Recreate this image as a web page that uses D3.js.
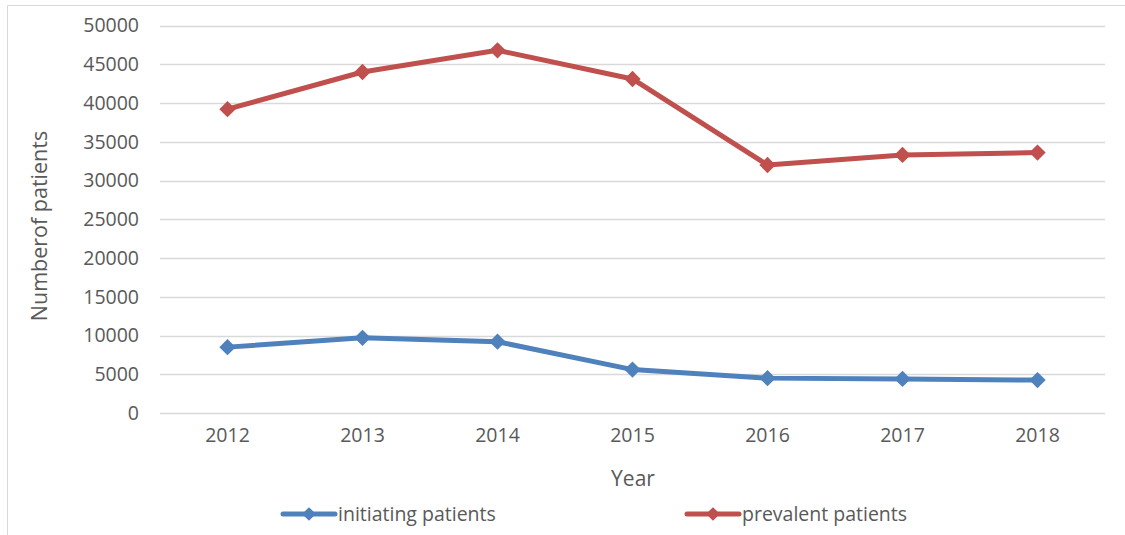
<!DOCTYPE html>
<html>
<head>
<meta charset="utf-8">
<script src="https://cdn.jsdelivr.net/npm/d3@7"></script>
<style>
  body { margin: 0; background: #fff; }
  text { font-family: "Open Sans", sans-serif; fill: #595959; }
</style>
</head>
<body>
<svg id="chart" width="1125" height="535"></svg>
<script>
var years = ["2012", "2013", "2014", "2015", "2016", "2017", "2018"];
var initiating = [8500, 9700, 9200, 5600, 4500, 4400, 4250];
var prevalent = [39200, 44000, 46800, 43100, 32000, 33300, 33600];
var yTicks = [0, 5000, 10000, 15000, 20000, 25000, 30000, 35000, 40000, 45000, 50000];
var seriesNames = ["initiating patients", "prevalent patients"];
var colors = ["#4F81BD", "#C0504D"];

var svg = d3.select("#chart");

// chart frame (only left / top edge visible in the picture)
svg.append("path")
  .attr("d", "M7.5,535V5.5H1125")
  .attr("fill", "none")
  .attr("stroke", "#d9d9d9")
  .attr("stroke-width", 1);

var x = d3.scaleBand().domain(years).range([160, 1105]);
var y = d3.scaleLinear().domain([0, 50000]).range([413, 25.5]);

// gridlines
svg.append("g")
  .selectAll("line")
  .data(yTicks)
  .enter().append("line")
  .attr("x1", 160).attr("x2", 1105)
  .attr("y1", function(d) { return Math.round(y(d)) + 0.5; })
  .attr("y2", function(d) { return Math.round(y(d)) + 0.5; })
  .attr("stroke", "#d9d9d9")
  .attr("stroke-width", 1.5);

// y axis labels
var yAxis = d3.axisLeft(y).tickValues(yTicks).tickSize(0).tickPadding(0).tickFormat(d3.format("d"));
svg.append("g")
  .attr("transform", "translate(139,0)")
  .call(yAxis)
  .call(function(g) { g.select(".domain").remove(); })
  .selectAll("text")
  .style("font-size", "19.5px")
  .attr("fill", "#595959");

// x axis labels
var xAxis = d3.axisBottom(x).tickSize(0).tickPadding(0);
svg.append("g")
  .attr("transform", "translate(0,428)")
  .call(xAxis)
  .call(function(g) { g.select(".domain").remove(); })
  .selectAll("text")
  .style("font-size", "19.5px")
  .attr("fill", "#595959");

// axis titles
svg.append("text")
  .attr("x", 633).attr("y", 486)
  .attr("text-anchor", "middle")
  .style("font-size", "21px")
  .text("Year");

svg.append("text")
  .attr("transform", "translate(47,226) rotate(-90)")
  .attr("text-anchor", "middle")
  .style("font-size", "21.5px")
  .text("Numberof patients");

var line = d3.line()
  .x(function(d, i) { return x(years[i]) + x.bandwidth() / 2; })
  .y(function(d) { return y(d); });

var diamond = d3.symbol().type(d3.symbolDiamond2).size(170);

[initiating, prevalent].forEach(function(vals, k) {
  var g = svg.append("g");
  g.append("path")
    .datum(vals)
    .attr("d", line)
    .attr("fill", "none")
    .attr("stroke", colors[k])
    .attr("stroke-width", 5)
    .attr("stroke-linejoin", "round");
  g.selectAll("path.pt")
    .data(vals)
    .enter().append("path")
    .attr("class", "pt")
    .attr("transform", function(d, i) { return "translate(" + (x(years[i]) + x.bandwidth() / 2) + "," + y(d) + ")"; })
    .attr("d", diamond)
    .attr("fill", colors[k]);
});

// legend
var legendX = [283, 687];
var legend = svg.append("g");
seriesNames.forEach(function(name, k) {
  var lg = legend.append("g").attr("transform", "translate(" + legendX[k] + ",514)");
  lg.append("line")
    .attr("x1", 0).attr("x2", 52)
    .attr("stroke", colors[k])
    .attr("stroke-width", 5)
    .attr("stroke-linecap", "round");
  lg.append("path")
    .attr("transform", "translate(26,0)")
    .attr("d", d3.symbol().type(d3.symbolDiamond2).size(120))
    .attr("fill", colors[k]);
  lg.append("text")
    .attr("x", 55).attr("y", 7)
    .style("font-size", "19.5px")
    .text(name);
});
</script>
</body>
</html>
